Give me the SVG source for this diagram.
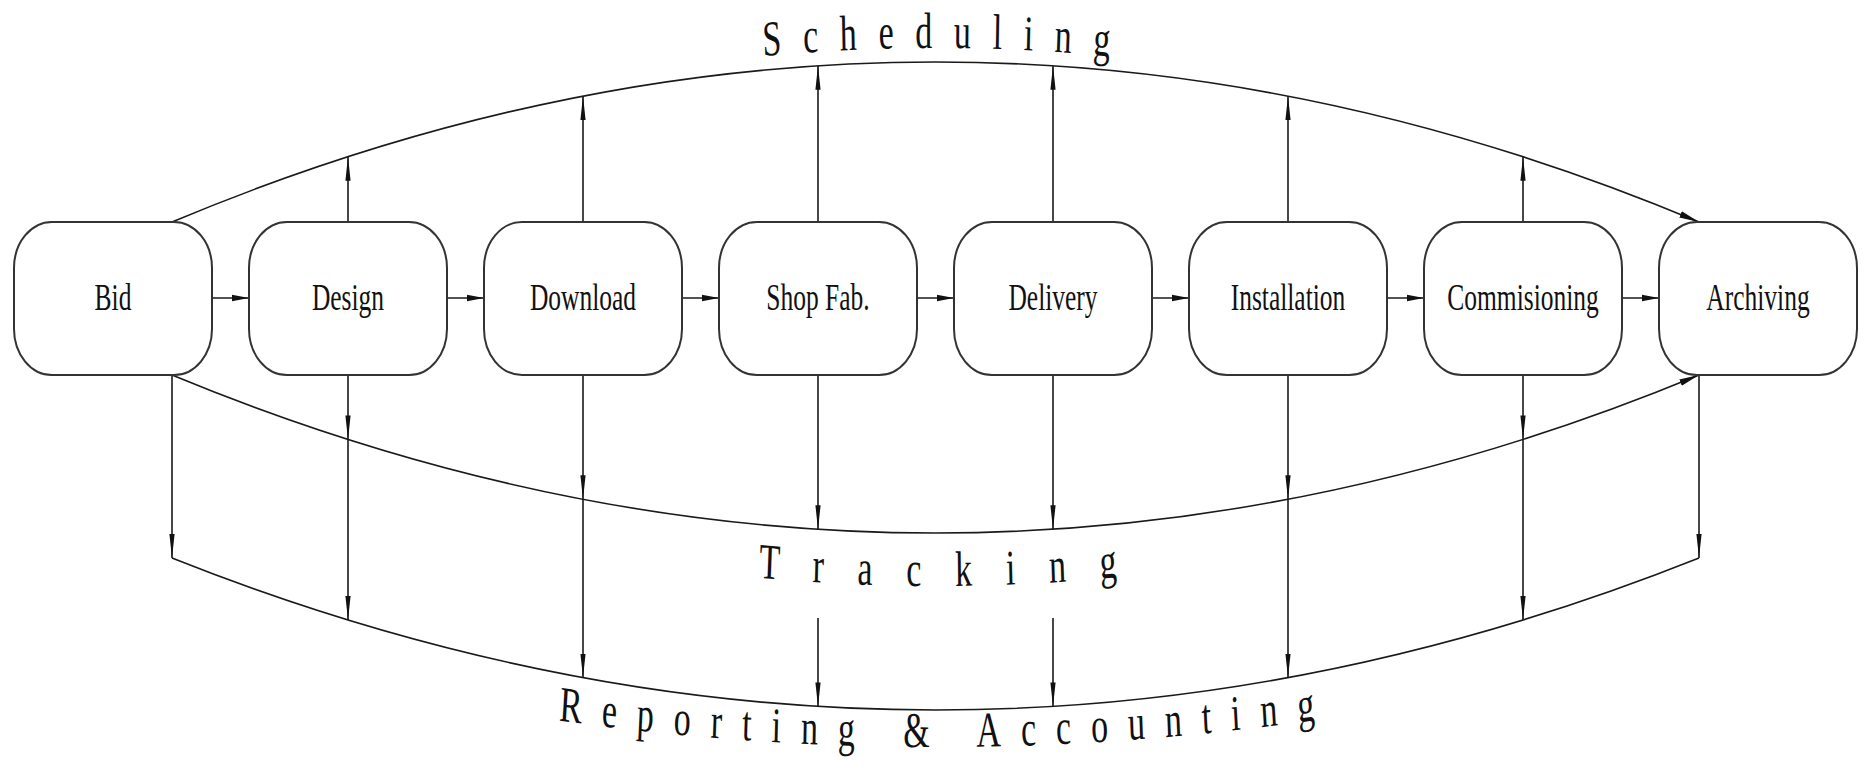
<svg xmlns="http://www.w3.org/2000/svg" width="1864" height="774" viewBox="0 0 1864 774">
<defs>
<style>
.box{fill:#fff;stroke:#333;stroke-width:2}
.lbl{font-family:"Liberation Serif","Times New Roman",serif;font-size:37.5px;fill:#111;text-anchor:middle}
.ln{fill:none;stroke:#1a1a1a;stroke-width:1.6}
.big{font-family:"Liberation Serif","Times New Roman",serif;font-size:50px;fill:#111;text-anchor:middle}
</style>
<marker id="ah" markerUnits="userSpaceOnUse" markerWidth="18" markerHeight="8" refX="17" refY="4" orient="auto"><path d="M0,0.8 L17,4 L0,7.2 z" fill="#111"/></marker>
<marker id="av" markerUnits="userSpaceOnUse" markerWidth="25" markerHeight="6" refX="24" refY="3" orient="auto"><path d="M0,0.4 L24,3 L0,5.6 z" fill="#111"/></marker>
<marker id="ad" markerUnits="userSpaceOnUse" markerWidth="21" markerHeight="8" refX="20" refY="4" orient="auto"><path d="M0,0.6 L20,4 L0,7.4 z" fill="#111"/></marker>
<path id="pS" d="M252.9,208 Q1375.7,-112 2498.5,208"/>
<path id="pT" d="M252.9,428 Q1375.7,744 2498.5,428"/>
<path id="pR" d="M252.9,638 Q1375.7,856 2498.5,638"/>
</defs>

<g id="connectors">
<path class="ln" marker-end="url(#ah)" d="M212,298 H249"/>
<path class="ln" marker-end="url(#ah)" d="M447,298 H484"/>
<path class="ln" marker-end="url(#ah)" d="M682,298 H719"/>
<path class="ln" marker-end="url(#ah)" d="M917,298 H954"/>
<path class="ln" marker-end="url(#ah)" d="M1152,298 H1189"/>
<path class="ln" marker-end="url(#ah)" d="M1387,298 H1424"/>
<path class="ln" marker-end="url(#ah)" d="M1622,298 H1659"/>
<path class="ln" marker-end="url(#ad)" d="M172,222 Q935.5,-98 1699,222"/>
<path class="ln" marker-end="url(#ad)" d="M172,375 Q935.5,691 1699,375"/>
<path class="ln" d="M172,558 Q935.5,862 1699,558"/>
<path class="ln" marker-end="url(#av)" d="M348,222 V156.7"/>
<path class="ln" marker-end="url(#av)" d="M583,222 V96.1"/>
<path class="ln" marker-end="url(#av)" d="M818,222 V65.8"/>
<path class="ln" marker-end="url(#av)" d="M1053,222 V65.8"/>
<path class="ln" marker-end="url(#av)" d="M1288,222 V96.1"/>
<path class="ln" marker-end="url(#av)" d="M1523,222 V156.7"/>
<path class="ln" marker-end="url(#av)" d="M348,375 V439.4"/>
<path class="ln" marker-end="url(#av)" d="M583,375 V499.3"/>
<path class="ln" marker-end="url(#av)" d="M818,375 V529.3"/>
<path class="ln" marker-end="url(#av)" d="M1053,375 V529.3"/>
<path class="ln" marker-end="url(#av)" d="M1288,375 V499.3"/>
<path class="ln" marker-end="url(#av)" d="M1523,375 V439.4"/>
<path class="ln" marker-end="url(#av)" d="M172,375 V558"/>
<path class="ln" marker-end="url(#av)" d="M348,439.4 V620"/>
<path class="ln" marker-end="url(#av)" d="M583,499.3 V677.6"/>
<path class="ln" marker-end="url(#av)" d="M818,618 V706.4"/>
<path class="ln" marker-end="url(#av)" d="M1053,618 V706.4"/>
<path class="ln" marker-end="url(#av)" d="M1288,499.3 V677.6"/>
<path class="ln" marker-end="url(#av)" d="M1523,439.4 V620"/>
<path class="ln" marker-end="url(#av)" d="M1699,375 V558"/>
</g>

<g id="arc-labels" transform="scale(0.68,1)">
<text class="big" letter-spacing="31.7"><textPath href="#pS" startOffset="50.76%">Scheduling</textPath></text>
<text class="big" letter-spacing="49.8"><textPath href="#pT" startOffset="51.26%">Tracking</textPath></text>
<text class="big" letter-spacing="29.5"><textPath href="#pR" startOffset="50.75%">Reporting &amp; Accounting</textPath></text>
</g>

<g id="bid"><rect class="box" x="14" y="222" width="198" height="153" rx="38" ry="46"/><text class="lbl" transform="translate(113,310) scale(0.68,1)">Bid</text></g>
<g id="design"><rect class="box" x="249" y="222" width="198" height="153" rx="38" ry="46"/><text class="lbl" transform="translate(348,310) scale(0.68,1)">Design</text></g>
<g id="download"><rect class="box" x="484" y="222" width="198" height="153" rx="38" ry="46"/><text class="lbl" transform="translate(583,310) scale(0.68,1)">Download</text></g>
<g id="shopfab"><rect class="box" x="719" y="222" width="198" height="153" rx="38" ry="46"/><text class="lbl" transform="translate(818,310) scale(0.68,1)">Shop Fab.</text></g>
<g id="delivery"><rect class="box" x="954" y="222" width="198" height="153" rx="38" ry="46"/><text class="lbl" transform="translate(1053,310) scale(0.68,1)">Delivery</text></g>
<g id="installation"><rect class="box" x="1189" y="222" width="198" height="153" rx="38" ry="46"/><text class="lbl" transform="translate(1288,310) scale(0.68,1)">Installation</text></g>
<g id="commisioning"><rect class="box" x="1424" y="222" width="198" height="153" rx="38" ry="46"/><text class="lbl" transform="translate(1523,310) scale(0.68,1)">Commisioning</text></g>
<g id="archiving"><rect class="box" x="1659" y="222" width="198" height="153" rx="38" ry="46"/><text class="lbl" transform="translate(1758,310) scale(0.68,1)">Archiving</text></g>
</svg>
